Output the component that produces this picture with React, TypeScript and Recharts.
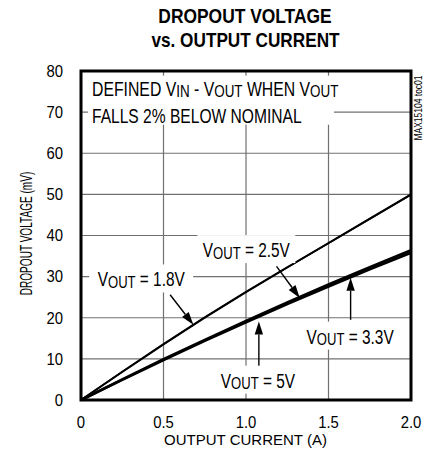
import React from "react";
import {
  LineChart,
  Line,
  XAxis,
  YAxis,
  CartesianGrid,
  ReferenceLine,
  ReferenceDot,
  ReferenceArea,
} from "recharts";

const current = [0, 0.25, 0.5, 0.75, 1.0, 1.25, 1.5, 1.75, 2.0];
const vout18 = [0, 6.9, 13.6, 20.1, 26.3, 32.3, 38.2, 44.1, 50.0];
const vout25 = [0, 6.8, 13.5, 20.0, 26.2, 32.2, 38.1, 44.0, 49.9];
const vout33 = [0, 5.0, 9.9, 14.6, 19.2, 23.7, 28.1, 32.3, 36.4];
const vout5 = [0, 4.9, 9.7, 14.4, 18.9, 23.3, 27.6, 31.8, 35.8];

const xTicks = [0, 0.5, 1.0, 1.5, 2.0];
const yTicks = [0, 10, 20, 30, 40, 50, 60, 70, 80];

const data = current.map((c, i) => ({
  current: c,
  v18: vout18[i],
  v25: vout25[i],
  v33: vout33[i],
  v5: vout5[i],
}));

const FONT = "'Liberation Sans', Arial, sans-serif";

// VOUT labels: anchor = text centre / baseline, in data coords
const voutLabels = [
  { x: 0.365, y: 27.6, text: " = 1.8V", w: 104 },
  { x: 1.002, y: 34.75, text: " = 2.5V", w: 98 },
  { x: 1.631, y: 13.7, text: " = 3.3V", w: 92 },
  { x: 1.072, y: 3.0, text: " = 5V", w: 80 },
];

const arrows = [
  { x1: 0.54, y1: 25.6, x2: 0.681, y2: 18.3 },
  { x1: 1.185, y1: 32.5, x2: 1.326, y2: 24.8 },
  { x1: 1.634, y1: 19.5, x2: 1.634, y2: 29.7 },
  { x1: 1.078, y1: 8.2, x2: 1.078, y2: 19.1 },
];

// horizontally squeezed text (the original uses a narrow face)
const SText = ({ x, y, sx = 1, anchor = "start", size = 16, weight = "normal", rot = false, children }: any) => (
  <g transform={`translate(${x},${y})${rot ? " rotate(-90)" : ""} scale(${sx},1)`}>
    <text x={0} y={0} textAnchor={anchor} fontFamily={FONT} fontSize={size} fontWeight={weight} fill="#000">
      {children}
    </text>
  </g>
);

const Arrow = (props: any) => {
  const { x1, y1, x2, y2 } = props;
  const a = Math.atan2(y2 - y1, x2 - x1);
  const len = 13;
  const half = 4.2;
  const bx = x2 - len * Math.cos(a);
  const by = y2 - len * Math.sin(a);
  const px = -Math.sin(a) * half;
  const py = Math.cos(a) * half;
  return (
    <g>
      <line x1={x1} y1={y1} x2={bx} y2={by} stroke="#000" strokeWidth={1.4} />
      <polygon points={`${x2},${y2} ${bx + px},${by + py} ${bx - px},${by - py}`} fill="#000" />
    </g>
  );
};

const VoutLabel = ({ cx, cy, text, w }: any) => (
  <g>
    <rect x={cx - w / 2} y={cy - 22} width={w} height={28} fill="#fff" />
    <SText x={cx} y={cy} sx={0.77} anchor="middle" size={20}>
      V
      <tspan fontSize={17} dy={1.5}>
        OUT
      </tspan>
      <tspan dy={-1.5}>{text}</tspan>
    </SText>
  </g>
);

const NoteBox = ({ cx, cy }: any) => (
  <g>
    <rect x={cx - 4} y={cy - 20} width={246} height={49} fill="#fff" />
    <SText x={cx} y={cy} sx={0.79} size={20}>
      DEFINED V
      <tspan fontSize={17} dy={1.5}>
        IN
      </tspan>
      <tspan dy={-1.5}> - V</tspan>
      <tspan fontSize={17} dy={1.5}>
        OUT
      </tspan>
      <tspan dy={-1.5}> WHEN V</tspan>
      <tspan fontSize={17} dy={1.5}>
        OUT
      </tspan>
    </SText>
    <SText x={cx} y={cy + 27} sx={0.78} size={20}>
      FALLS 2% BELOW NOMINAL
    </SText>
  </g>
);

const XTick = ({ x, y, payload }: any) => (
  <SText x={x} y={y + 11.5} sx={0.93} anchor="middle" size={16}>
    {payload.value === 0 ? "0" : payload.value.toFixed(1)}
  </SText>
);

const YTick = ({ x, y, payload }: any) => (
  <SText x={x} y={y + 5.8} sx={0.93} anchor="end" size={16}>
    {payload.value}
  </SText>
);

export default function App() {
  return (
    <div style={{ position: "absolute", left: 0, top: 0, width: 423, height: 466, background: "#fff" }}>
      <LineChart width={423} height={466} data={data} margin={{ top: 71, right: 12, bottom: 26, left: 0 }}>
        <CartesianGrid stroke="#707070" strokeWidth={1.2} />
        <XAxis
          dataKey="current"
          type="number"
          domain={[0, 2]}
          ticks={xTicks}
          axisLine={false}
          tickLine={false}
          tickMargin={10}
          height={40}
          tick={<XTick />}
          label={{
            content: ({ viewBox }: any) => (
              <SText x={viewBox.x + viewBox.width / 2 - 0.5} y={445} anchor="middle" size={15}>
                OUTPUT CURRENT (A)
              </SText>
            ),
          }}
        />
        <YAxis
          type="number"
          domain={[0, 80]}
          ticks={yTicks}
          axisLine={false}
          tickLine={false}
          tickMargin={12}
          width={81}
          tick={<YTick />}
          label={{
            content: () => (
              <SText x={32} y={233.5} rot sx={0.61} anchor="middle" size={16.5}>
                DROPOUT VOLTAGE (mV)
              </SText>
            ),
          }}
        />
        <Line type="linear" dataKey="v18" stroke="#000" strokeWidth={1.8} dot={false} isAnimationActive={false} />
        <Line type="linear" dataKey="v25" stroke="#000" strokeWidth={1.8} dot={false} isAnimationActive={false} />
        <Line type="linear" dataKey="v33" stroke="#000" strokeWidth={2.6} dot={false} isAnimationActive={false} />
        <Line type="linear" dataKey="v5" stroke="#000" strokeWidth={2.6} dot={false} isAnimationActive={false} />
        <ReferenceDot x={0.0665} y={74.0} r={0} shape={(p: any) => <NoteBox cx={p.cx} cy={p.cy} />} />
        {voutLabels.map((l, i) => (
          <ReferenceDot
            key={"l" + i}
            x={l.x}
            y={l.y}
            r={0}
            shape={(p: any) => <VoutLabel cx={p.cx} cy={p.cy} text={l.text} w={l.w} />}
          />
        ))}
        {arrows.map((a, i) => (
          <ReferenceLine
            key={"a" + i}
            segment={[
              { x: a.x1, y: a.y1 },
              { x: a.x2, y: a.y2 },
            ]}
            shape={Arrow}
          />
        ))}
        <ReferenceArea x1={0} x2={2} y1={0} y2={80} fill="none" stroke="#000" strokeWidth={3} />
      </LineChart>
      <svg width={423} height={466} style={{ position: "absolute", left: 0, top: 0, pointerEvents: "none" }}>
        <SText x={245} y={23} sx={0.87} anchor="middle" size={20} weight="bold">
          DROPOUT VOLTAGE
        </SText>
        <SText x={245.5} y={47} sx={0.86} anchor="middle" size={20} weight="bold">
          vs. OUTPUT CURRENT
        </SText>
        <SText x={422} y={108} rot sx={0.85} anchor="middle" size={10}>
          MAX15104 toc01
        </SText>
      </svg>
    </div>
  );
}
